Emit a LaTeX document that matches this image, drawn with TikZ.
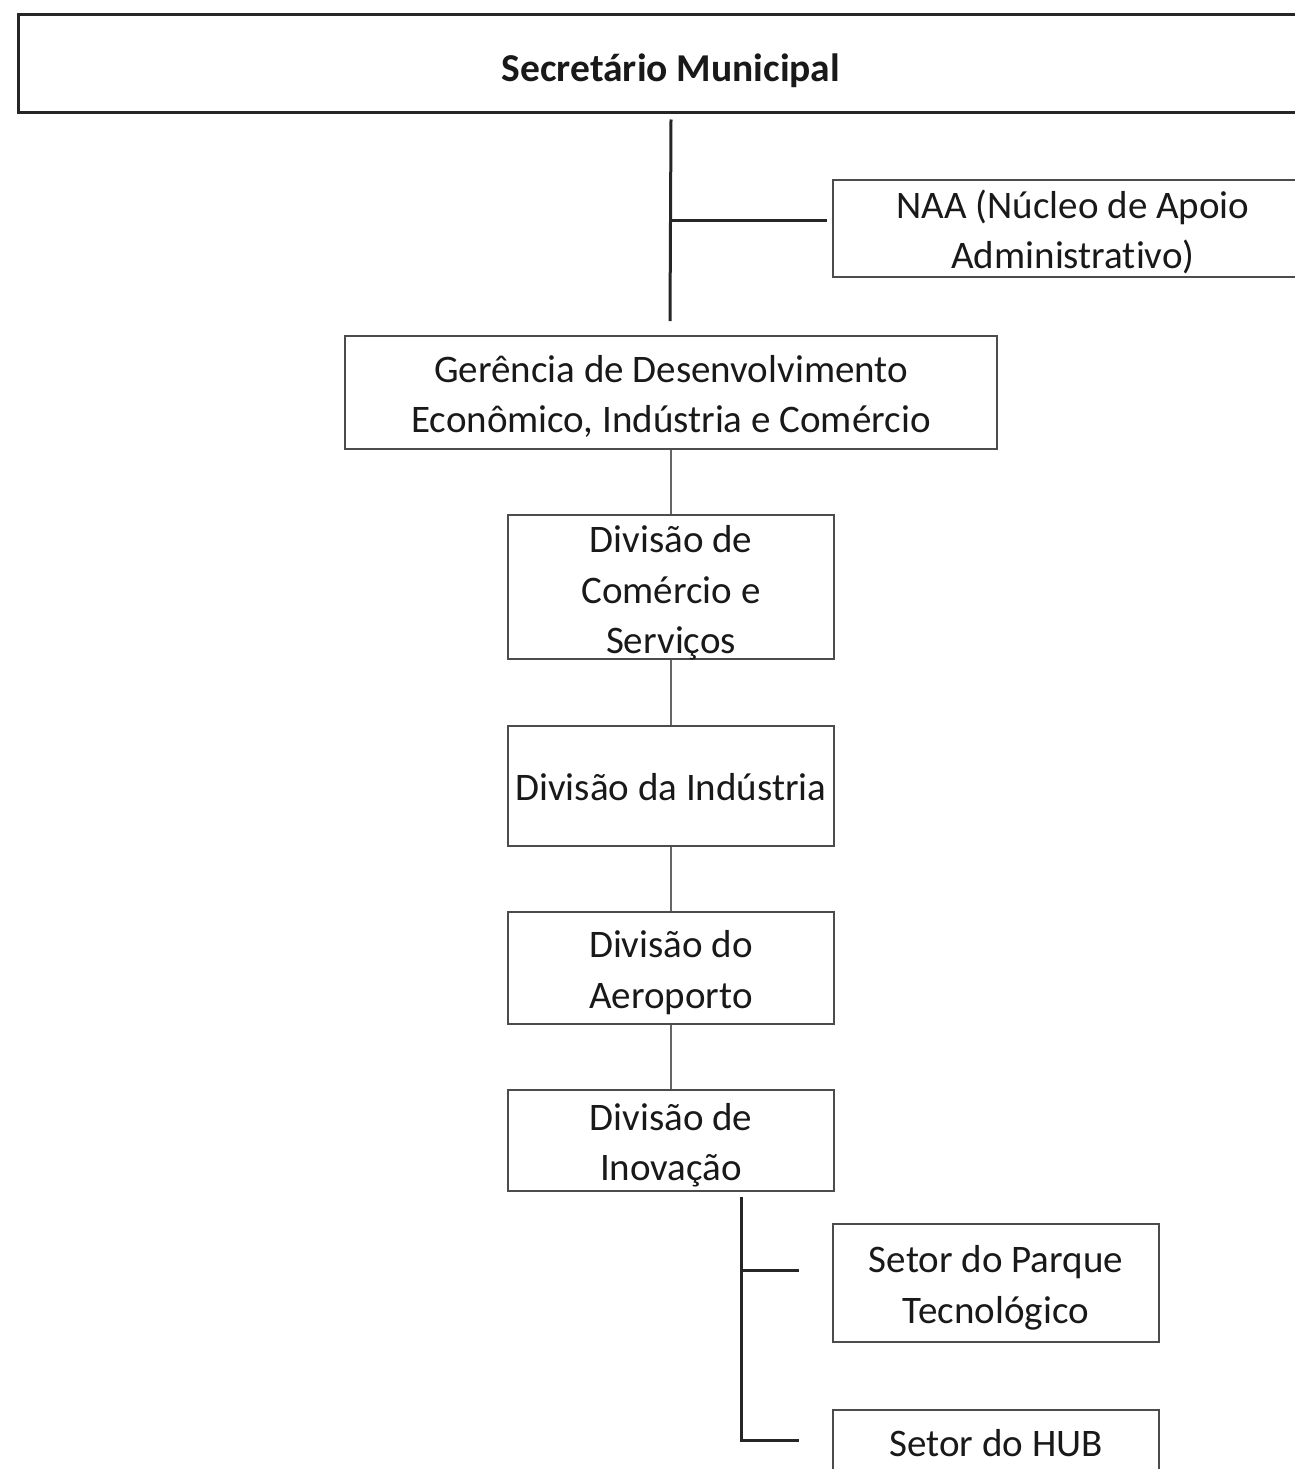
\documentclass[tikz,border=0pt]{standalone}
\usepackage{fontspec}
\setmainfont{Carlito}[Ligatures=NoCommon]
\usetikzlibrary{calc}
\begin{document}
\begin{tikzpicture}[x=1pt,y=-1pt,
  box/.style={draw=black!70, line width=1.6pt, fill=white, align=center,
    inner xsep=0pt, inner ysep=-6pt, text=black!90, font=\fontsize{39}{50.5}\selectfont,
    execute at begin node={\rule{0pt}{38pt}},
    execute at end node={\rule[-10pt]{0pt}{10pt}}},
  % struts that fix the top of a block of two or three lines
  two lines/.style={execute at begin node={\rule{0pt}{90.5pt}}},
  three lines/.style={execute at begin node={\rule{0pt}{143pt}}},
  thin link/.style={draw=black!60, line width=1.5pt},
  thick link/.style={draw=black!85, line width=3pt}]
\useasboundingbox (0,0) rectangle (1295,1469);
\begin{scope}
\clip (0,0) rectangle (1295,1469);
% top level (right edge runs past the page)
\node[box, line width=3pt, draw=black!85, minimum width=1306pt, minimum height=98pt,
  font=\fontsize{39.5}{50.5}\selectfont\bfseries,
  execute at begin node={\rule{0pt}{46pt}}] (sec) at (671,64) {Secretário Municipal};
% advisory unit (right edge runs past the page)
\node[box, two lines, minimum width=480pt, minimum height=97pt,
  execute at begin node={\rule{0pt}{88.5pt}}] (naa) at (1073,228.5) {NAA (Núcleo de Apoio\\Administrativo)};
% management
\node[box, two lines, minimum width=652pt, minimum height=113pt] (ger) at (671,392.5) {Gerência de Desenvolvimento\\Econômico, Indústria e Comércio};
% divisions
\node[box, three lines, minimum width=326pt, minimum height=144pt] (com) at (671,587) {Divisão de\\Comércio e\\Serviços};
\node[box, minimum width=326pt, minimum height=120pt] (ind) at (671,786) {Divisão da Indústria};
\node[box, two lines, minimum width=326pt, minimum height=112pt] (aer) at (671,968) {Divisão do\\Aeroporto};
\node[box, two lines, minimum width=326pt, minimum height=101pt] (ino) at (671,1140.5) {Divisão de\\Inovação};
% sectors (the last one runs past the bottom edge)
\node[box, two lines, minimum width=326pt, minimum height=118pt] (par) at (996,1283) {Setor do Parque\\Tecnológico};
\node[box, minimum width=326pt, minimum height=66pt, anchor=north] (hub) at (996,1409) {Setor do HUB};
\end{scope}
% connectors
\coordinate (trunk) at ($(ger.north)+(-1,-14)$);
\draw[thick link] (ger.north |- sec.south) ++(0,5) -- (trunk);
\coordinate (naabr) at ($(naa.west)+(-5,-8)$);
\draw[thick link] (ger.north |- naabr) -- (naabr);
\draw[thin link] (ger.south) -- (com.north);
\draw[thin link] (com.south) -- (ind.north);
\draw[thin link] (ind.south) -- (aer.north);
\draw[thin link] (aer.south) -- (ino.north);
\coordinate (split) at ($(ino.south)+(70,5)$);
\coordinate (hubbr) at ($(hub.west)+(-33,-2)$);
\coordinate (parbr) at ($(par.west)+(-33,-13)$);
\draw[thick link] (split) |- (hubbr);
\draw[thick link] (split |- parbr) -- (parbr);
\end{tikzpicture}
\end{document}
